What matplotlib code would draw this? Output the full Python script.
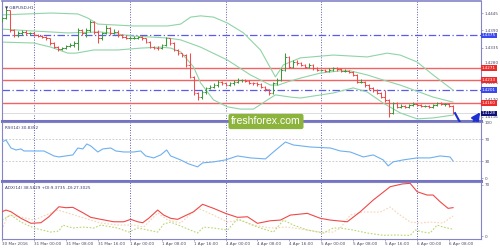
import matplotlib.pyplot as plt
from matplotlib.transforms import ScaledTranslation

# GBPUSD H1, one bar per hour from 30 Mar 2016 16:00 (index 0) to 6 Apr 09:00 (index 113)
first_open = 1.4422
close = [1.4428, 1.4454, 1.4391, 1.4375, 1.4381, 1.4386, 1.4381, 1.4381, 1.4375, 1.4372,
         1.4370, 1.4365, 1.4349, 1.4339, 1.4330, 1.4335, 1.4341, 1.4344, 1.4349, 1.4391,
         1.4381, 1.4391, 1.4418, 1.4386, 1.4365, 1.4381, 1.4396, 1.4381, 1.4386, 1.4375,
         1.4370, 1.4365, 1.4367, 1.4367, 1.4368, 1.4365, 1.4354, 1.4339, 1.4335, 1.4333,
         1.4344, 1.4365, 1.4349, 1.4328, 1.4317, 1.4312, 1.4281, 1.4244, 1.4191, 1.4180,
         1.4196, 1.4207, 1.4212, 1.4217, 1.4228, 1.4222, 1.4217, 1.4222, 1.4228, 1.4233,
         1.4233, 1.4231, 1.4225, 1.4222, 1.4220, 1.4212, 1.4204, 1.4193, 1.4222, 1.4233,
         1.4265, 1.4307, 1.4275, 1.4291, 1.4286, 1.4281, 1.4275, 1.4281, 1.4270, 1.4265,
         1.4265, 1.4263, 1.4265, 1.4270, 1.4267, 1.4263, 1.4263, 1.4259, 1.4249, 1.4228,
         1.4228, 1.4217, 1.4207, 1.4201, 1.4193, 1.4180, 1.4170, 1.4128, 1.4159, 1.4149,
         1.4151, 1.4149, 1.4154, 1.4157, 1.4154, 1.4151, 1.4151, 1.4149, 1.4154, 1.4159,
         1.4157, 1.4157, 1.4151, 1.4128]
high = [1.4432, 1.4460, 1.4456, 1.4395, 1.4388, 1.4392, 1.4390, 1.4386, 1.4384, 1.4380,
        1.4376, 1.4373, 1.4367, 1.4352, 1.4342, 1.4339, 1.4345, 1.4350, 1.4356, 1.4396,
        1.4394, 1.4396, 1.4423, 1.4420, 1.4390, 1.4386, 1.4407, 1.4400, 1.4395, 1.4390,
        1.4380, 1.4374, 1.4371, 1.4371, 1.4372, 1.4371, 1.4367, 1.4357, 1.4342, 1.4340,
        1.4348, 1.4370, 1.4367, 1.4352, 1.4332, 1.4320, 1.4315, 1.4318, 1.4246, 1.4195,
        1.4200, 1.4212, 1.4218, 1.4222, 1.4233, 1.4230, 1.4225, 1.4226, 1.4232, 1.4238,
        1.4237, 1.4236, 1.4234, 1.4228, 1.4226, 1.4222, 1.4215, 1.4206, 1.4226, 1.4240,
        1.4270, 1.4318, 1.4310, 1.4296, 1.4295, 1.4290, 1.4285, 1.4286, 1.4284, 1.4273,
        1.4269, 1.4268, 1.4270, 1.4275, 1.4273, 1.4270, 1.4267, 1.4266, 1.4262, 1.4252,
        1.4235, 1.4231, 1.4220, 1.4210, 1.4204, 1.4196, 1.4200, 1.4172, 1.4164, 1.4163,
        1.4156, 1.4155, 1.4158, 1.4162, 1.4160, 1.4157, 1.4155, 1.4154, 1.4158, 1.4163,
        1.4162, 1.4161, 1.4160, 1.4153]
low = [1.4418, 1.4425, 1.4385, 1.4368, 1.4370, 1.4376, 1.4377, 1.4376, 1.4372, 1.4368,
       1.4366, 1.4360, 1.4344, 1.4334, 1.4326, 1.4327, 1.4330, 1.4336, 1.4338, 1.4328,
       1.4376, 1.4370, 1.4386, 1.4380, 1.4349, 1.4360, 1.4378, 1.4376, 1.4378, 1.4370,
       1.4366, 1.4362, 1.4362, 1.4363, 1.4363, 1.4360, 1.4350, 1.4335, 1.4331, 1.4328,
       1.4330, 1.4340, 1.4344, 1.4324, 1.4312, 1.4305, 1.4275, 1.4240, 1.4185, 1.4170,
       1.4172, 1.4190, 1.4203, 1.4207, 1.4212, 1.4218, 1.4213, 1.4214, 1.4218, 1.4224,
       1.4228, 1.4227, 1.4221, 1.4218, 1.4215, 1.4208, 1.4199, 1.4186, 1.4190, 1.4218,
       1.4230, 1.4262, 1.4270, 1.4270, 1.4280, 1.4276, 1.4270, 1.4272, 1.4266, 1.4261,
       1.4261, 1.4259, 1.4259, 1.4262, 1.4263, 1.4259, 1.4258, 1.4255, 1.4245, 1.4223,
       1.4222, 1.4212, 1.4202, 1.4196, 1.4188, 1.4175, 1.4165, 1.4117, 1.4125, 1.4143,
       1.4145, 1.4144, 1.4146, 1.4150, 1.4150, 1.4147, 1.4147, 1.4145, 1.4146, 1.4150,
       1.4153, 1.4152, 1.4147, 1.4125]

# Bollinger bands (bar index, price)
bb_up_x = [0, 12.25, 19, 21.5, 24, 33, 41.5, 44.75, 47.25, 49.75, 53, 56.5, 60.5, 64.75,
           67.25, 68.5, 70.5, 74.75, 83, 91.5, 96.5, 99.75, 104, 108, 113]
bb_up = [1.4439, 1.4445, 1.4442, 1.4429, 1.4410, 1.4404, 1.4404, 1.4410, 1.4432, 1.4436,
         1.4432, 1.4413, 1.4382, 1.4328, 1.4271, 1.4243, 1.4281, 1.4303, 1.4312, 1.4306,
         1.4318, 1.4312, 1.4290, 1.4249, 1.4201]
bb_mid_x = [0, 8, 16.5, 24.75, 33, 41.5, 44.75, 49.75, 56.5, 62.25, 64.75, 67.25, 69.25,
            71.5, 74.75, 79.75, 84.75, 87.25, 91.5, 95.5, 99.75, 108, 113]
bb_mid = [1.4394, 1.4388, 1.4382, 1.4385, 1.4372, 1.4366, 1.4360, 1.4337, 1.4296, 1.4249,
          1.4233, 1.4217, 1.4217, 1.4227, 1.4239, 1.4255, 1.4262, 1.4262, 1.4249, 1.4233,
          1.4217, 1.4179, 1.4163]
bb_low_x = [0, 8, 12.25, 16.5, 18.5, 23, 29, 34.75, 39.75, 42.25, 44.75, 48, 49.75, 53,
            56.5, 59.75, 63, 66.5, 68.5, 72.25, 74.75, 83, 88, 91.5, 95.5, 99.75, 104, 108, 113]
bb_low = [1.4353, 1.4350, 1.4337, 1.4318, 1.4318, 1.4328, 1.4328, 1.4334, 1.4337, 1.4334,
          1.4322, 1.4274, 1.4224, 1.4170, 1.4148, 1.4141, 1.4141, 1.4170, 1.4186, 1.4179,
          1.4176, 1.4192, 1.4208, 1.4195, 1.4160, 1.4129, 1.4110, 1.4113, 1.4122]

red_levels = [1.4271, 1.4233, 1.4160]
blue_levels = [1.4375, 1.4201]
last_price = 1.4128
price_ticks = [1.4116, 1.4170, 1.4225, 1.4280, 1.4335, 1.4390, 1.4445]

# RSI(14)
rsi_x = [0, 1, 2.25, 3.5, 4.75, 5.5, 8, 10.5, 13, 14.25, 17.75, 19, 20.25, 21.25, 22.25, 24,
         25.25, 27.25, 28.5, 30.5, 33, 34.75, 36, 38, 39.75, 41.25, 42.25, 44.75, 46.75, 49,
         50.25, 53, 56, 59, 62.25, 66, 68, 71, 73, 77.25, 82.25, 84.75, 87.25, 90.5, 93,
         95.5, 96.75, 98, 100.5, 104, 107.25, 109.75, 112.25, 113]
rsi = [64.7, 68.3, 54.0, 50.5, 52.3, 48.7, 48.7, 48.7, 39.8, 38.0, 41.6, 54.0, 52.3, 61.2,
       57.6, 46.9, 52.3, 54.0, 48.7, 46.9, 46.9, 48.7, 39.8, 36.3, 41.6, 50.5, 39.8, 32.7,
       25.6, 20.3, 27.4, 29.2, 32.7, 39.8, 36.3, 34.5, 46.9, 64.7, 59.4, 55.8, 54.0, 48.7,
       46.9, 38.0, 41.6, 32.7, 22.0, 29.2, 32.7, 36.3, 36.3, 39.8, 38.0, 30.8]

# ADX(14) with +DI / -DI
adx_x = [0, 1, 2.25, 4.75, 7.25, 9.75, 11.75, 14.25, 16, 17.75, 20.25, 22.25, 24.75, 28,
         30.5, 32.25, 34, 35.25, 36.75, 39, 40.5, 42.25, 44, 48, 50.25, 53, 56, 59, 61.5, 64,
         67.25, 69.75, 72.25, 76.5, 79.75, 82.25, 86.5, 89.75, 93, 97.25, 100.25, 102.25,
         104, 106.5, 108, 109.75, 111.75, 113]
adx = [33.0, 35.3, 33.0, 24.1, 17.3, 18.1, 26.2, 39.8, 38.5, 39.0, 31.7, 25.4, 22.7, 19.4,
       19.4, 22.7, 19.4, 18.1, 24.1, 35.3, 28.5, 24.1, 22.7, 33.0, 43.1, 37.6, 30.8, 25.4,
       26.2, 17.3, 20.8, 21.7, 28.5, 30.8, 24.1, 21.7, 19.4, 33.0, 48.9, 67.0, 70.7, 71.6,
       60.2, 55.7, 55.7, 46.6, 37.6, 38.58]
pdi_x = [0, 2.25, 4.75, 8, 12.25, 14.25, 15.25, 17.75, 20.25, 23, 24.75, 29, 31.75, 34,
         36.5, 39, 40.5, 42.25, 44.75, 49, 50.5, 53, 56.5, 59, 64, 68, 70.5, 73, 76.5, 80.5,
         83, 84.75, 88, 91.5, 95.5, 99, 102.25, 103.5, 105.5, 107.25, 109, 110.5, 113]
pdi = [21.7, 28.5, 19.0, 10.9, 5.4, 6.8, 14.9, 10.9, 12.2, 10.9, 14.9, 10.9, 5.4, 10.9,
       8.2, 5.4, 16.3, 19.0, 13.6, 4.1, 12.2, 10.9, 8.2, 23.1, 12.2, 5.4, 21.7, 14.9, 8.2,
       4.1, 10.9, 10.9, 8.2, 4.1, 1.0, 1.4, 0.8, 8.2, 5.4, 4.1, 14.9, 12.2, 9.37]
mdi_x = [0, 1.5, 4.75, 8, 14, 16.5, 20.5, 24.75, 29, 33, 35.5, 39, 41.5, 44.75, 49, 53,
         56.5, 59.75, 63, 67.25, 71.5, 76.5, 79.75, 83, 84.75, 87.25, 90.5, 94.75, 97.25,
         99, 102.25, 104.75, 107.25, 110.5, 113]
mdi = [8.2, 28.5, 25.8, 21.7, 35.3, 31.3, 24.5, 17.7, 14.9, 14.9, 12.2, 31.3, 21.7, 17.7,
       38.0, 28.5, 19.0, 21.7, 14.9, 10.9, 12.2, 8.2, 5.4, 5.4, 10.9, 28.5, 32.6, 32.6, 39.4,
       31.3, 19.0, 17.7, 19.0, 17.7, 27.3]

day_starts = [8, 32, 56, 80, 104]
time_ticks = [0, 8, 16, 24, 32, 40, 48, 56, 64, 72, 80, 88, 96, 104, 112]
time_labels = ['30 Mar 2016', '31 Mar 00:00', '31 Mar 08:00', '31 Mar 16:00', '1 Apr 00:00',
               '1 Apr 08:00', '1 Apr 16:00', '4 Apr 00:00', '4 Apr 08:00', '4 Apr 16:00',
               '5 Apr 00:00', '5 Apr 08:00', '5 Apr 16:00', '6 Apr 00:00', '6 Apr 08:00']

# hand drawn forecast arrow (bar index, price)
arrow_x = [113.5, 116.2, 119.8]
arrow_y = [1.4128, 1.4065, 1.4131]

frame = '#8484c8'
sep = '#7474c0'
txt = '#4a4a68'
fs = 3.0

fig = plt.figure(figsize=(5, 2.5), dpi=100)
ax = fig.add_axes([0.004, 0.516, 0.958, 0.48])
ax_rsi = fig.add_axes([0.004, 0.276, 0.958, 0.236], sharex=ax)
ax_adx = fig.add_axes([0.004, 0.044, 0.958, 0.228], sharex=ax)

for a in (ax, ax_rsi, ax_adx):
    for s in a.spines.values():
        s.set_color(frame)
        s.set_linewidth(0.8)
    a.yaxis.tick_right()
    a.tick_params(axis='y', length=1.5, width=0.5, color=frame, pad=1.2,
                  labelsize=fs, labelcolor=txt)
    a.tick_params(axis='x', bottom=False, labelbottom=False)
    for d in day_starts:
        a.axvline(d, color='#5c5ca8', lw=0.7, ls=(0, (1, 1.6)), zorder=1)
ax.spines['bottom'].set_linewidth(2.2)
ax.spines['bottom'].set_color(sep)
ax_rsi.spines['bottom'].set_linewidth(2.2)
ax_rsi.spines['bottom'].set_color(sep)
ax.spines['top'].set_linewidth(1.2)

# price panel
ax.set_xlim(0.25, 120)
ax.set_ylim(1.41033, 1.44830)
ax.set_yticks(price_ticks)
ax.set_yticklabels(['%.4f' % p for p in price_ticks])
# the 1.4280 label sits just above the 1.4271 box
lab = ax.get_yticklabels()[price_ticks.index(1.4280)]
lab.set_transform(lab.get_transform() + ScaledTranslation(0, 2.2 / 72, fig.dpi_scale_trans))

ax.axhline(last_price, color='#dcdcdc', lw=0.7, zorder=1)
for lv in red_levels:
    ax.axhline(lv, color='#f26464', lw=1.0, zorder=1)
for lv in blue_levels:
    ax.axhline(lv, color='#5a5aee', lw=0.9, ls=(0, (6, 2, 1, 2)), zorder=1)

ax.plot(bb_up_x, bb_up, color='#8fd4a6', lw=0.8, zorder=2)
ax.plot(bb_mid_x, bb_mid, color='#8fd4a6', lw=0.8, zorder=2)
ax.plot(bb_low_x, bb_low, color='#8fd4a6', lw=0.8, zorder=2)

opens = [first_open] + close[:-1]
for i in range(len(close)):
    c = '#3c9a3c' if close[i] >= opens[i] else '#f04c4c'
    ax.vlines(i, low[i], high[i], color=c, lw=0.75, zorder=3)
    ax.hlines(opens[i], i - 0.45, i, color=c, lw=0.75, zorder=3)
    ax.hlines(close[i], i, i + 0.45, color=c, lw=0.75, zorder=3)

box_tr = ax.get_yaxis_transform()
for lv in red_levels:
    ax.text(1.002, lv, '%.4f' % lv, transform=box_tr, fontsize=fs, color='white',
            va='center', ha='left', zorder=6, clip_on=False,
            bbox=dict(boxstyle='square,pad=0.15', fc='#ee2a2a', ec='none'))
for lv in blue_levels:
    ax.text(1.002, lv, '%.4f' % lv, transform=box_tr, fontsize=fs, color='white',
            va='center', ha='left', zorder=6, clip_on=False,
            bbox=dict(boxstyle='square,pad=0.15', fc='#3a48f0', ec='none'))
ax.text(1.002, last_price, '%.4f' % last_price, transform=box_tr, fontsize=fs,
        color='white', va='center', ha='left', zorder=6, clip_on=False,
        bbox=dict(boxstyle='square,pad=0.15', fc='#10107a', ec='none'))

ax.text(0.006, 0.965, '\u25bc GBPUSD,H1', transform=ax.transAxes, fontsize=fs,
        color='#34346e', va='top', ha='left')

ax.plot(arrow_x[:2], arrow_y[:2], color='#1c2fd2', lw=1.5, clip_on=False, zorder=8)
ax.annotate('', xy=(arrow_x[2], arrow_y[2]), xytext=(arrow_x[1], arrow_y[1]),
            annotation_clip=False, zorder=8,
            arrowprops=dict(arrowstyle='-|>,head_length=0.5,head_width=0.25',
                            color='#1c2fd2', lw=1.5, shrinkA=0, shrinkB=0))

# RSI panel
ax_rsi.set_ylim(-5, 100.5)
ax_rsi.set_yticks([0, 30, 70, 100])
ax_rsi.set_yticklabels(['0', '30', '70', '100'])
for lv in (30, 70):
    ax_rsi.axhline(lv, color='#c4c4c4', lw=0.6, ls=(0, (2, 2)), zorder=1)
ax_rsi.plot(rsi_x, rsi, color='#6eb0f0', lw=0.8, zorder=3)
ax_rsi.text(0.006, 0.93, 'RSI(14) 30.8352', transform=ax_rsi.transAxes, fontsize=fs,
            color='#34346e', va='top', ha='left')

# ADX panel
ax_adx.set_ylim(-4, 73.4)
ax_adx.set_yticks([0, 70])
ax_adx.set_yticklabels(['0', '70'])
ax_adx.plot(mdi_x, mdi, color='#f6d4b4', lw=0.8, ls=(0, (1.5, 1.5)), zorder=2)
ax_adx.plot(pdi_x, pdi, color='#b8d870', lw=0.8, ls=(0, (1.5, 1.5)), zorder=2)
ax_adx.plot(adx_x, adx, color='#f04848', lw=0.8, zorder=3)
ax_adx.text(0.006, 0.93, 'ADX(14) 38.5829 +DI:9.3735 -DI:27.3025',
            transform=ax_adx.transAxes, fontsize=fs, color='#34346e', va='top', ha='left')

ax_adx.tick_params(axis='x', bottom=True, labelbottom=True, length=1.5, width=0.5,
                   color=frame, pad=0.8, labelsize=fs, labelcolor=txt)
ax_adx.set_xticks(time_ticks)
ax_adx.set_xticklabels(time_labels, ha='left')

fig.text(0.532, 0.514, 'freshforex.com', fontsize=7.6, family='Liberation Sans',
         color='white', ha='center', va='center', zorder=10,
         bbox=dict(boxstyle='round,pad=0.25,rounding_size=0.2', fc='#8cb43c', ec='none'))

fig.savefig('out.png', dpi=100, facecolor='white')
